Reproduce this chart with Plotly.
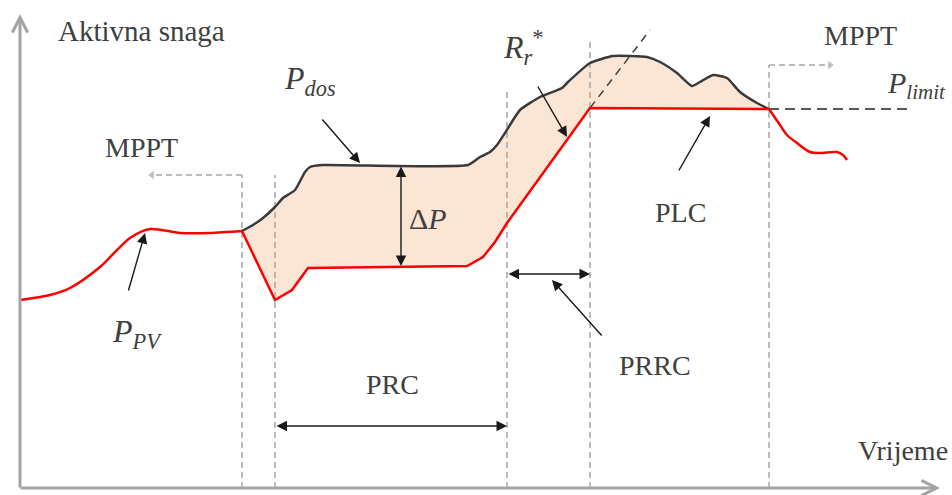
import plotly.graph_objects as go

# ---------------- data (time t, active power p) ----------------
# P_PV before limitation (MPPT mode)
pv_mppt_t = [20, 50, 70, 100, 130, 150, 180, 210, 242]
pv_mppt_p = [195, 200, 207, 228, 257, 266, 262, 262, 264]

# P_PV during limitation (PRC, PRRC, PLC)
pv_lim_t = [242, 275, 292, 308, 467, 483, 495, 507, 590, 769]
pv_lim_p = [264, 195, 205, 227, 229, 238, 253, 272, 387, 386]

# P_PV after returning to MPPT
pv_after_t = [769, 780, 787, 797, 810, 820, 837, 843, 847]
pv_after_p = [386, 370, 360, 352, 343, 342, 343, 340, 335]

# Available power P_dos
dos_t = [242, 253, 263, 275, 283, 295, 305, 310, 322, 468, 480, 490, 497, 505,
         520, 540, 562, 568, 590, 613, 630, 647, 660, 677, 692, 700, 713, 727,
         740, 757, 769]
dos_p = [264, 270, 277, 288, 297, 305, 323, 328, 330, 330, 338, 343, 350, 362,
         385, 398, 407, 413, 432, 439, 439, 438, 433, 422, 409, 413, 420, 417,
         403, 392, 386]

# Mode boundaries (time) and their dashed-line tops (power)
bound_t = [242, 275, 507, 590, 769]
bound_top = [320, 320, 405, 455, 430]

p_limit = 386
p_limit_end = 913
ramp_ext = ([590, 650], [387, 465])

# ---------------- figure ----------------
TXT = "#404040"
SERIF = "Liberation Serif"
fig = go.Figure()

# shaded area between P_dos and P_PV
fill_t = dos_t + pv_lim_t[::-1]
fill_p = dos_p + pv_lim_p[::-1]
fig.add_trace(go.Scatter(x=fill_t, y=fill_p, fill="toself", fillcolor="#fbe6d6",
                         line=dict(width=0), mode="lines", hoverinfo="skip"))

# dashed boundaries
for t, top in zip(bound_t, bound_top):
    fig.add_trace(go.Scatter(x=[t, t], y=[7, top], mode="lines",
                             line=dict(color="#a6a6a6", width=1.5, dash="6px,4px")))

# MPPT dashed arrows
fig.add_trace(go.Scatter(x=[bound_t[0], 152], y=[bound_top[0], bound_top[0]], mode="lines+markers",
                         line=dict(color="#a6a6a6", width=1.5, dash="6px,4px"),
                         marker=dict(symbol="triangle-left", size=[0, 9], color="#a6a6a6")))
fig.add_trace(go.Scatter(x=[bound_t[4], 830], y=[bound_top[4], bound_top[4]], mode="lines+markers",
                         line=dict(color="#a6a6a6", width=1.5, dash="6px,4px"),
                         marker=dict(symbol="triangle-right", size=[0, 9], color="#a6a6a6")))

# P_limit dashed line and ramp extension
fig.add_trace(go.Scatter(x=[bound_t[4], p_limit_end], y=[p_limit, p_limit], mode="lines",
                         line=dict(color="#595959", width=2, dash="10px,6px")))
fig.add_trace(go.Scatter(x=ramp_ext[0], y=ramp_ext[1], mode="lines",
                         line=dict(color="#404040", width=1.5, dash="8px,6px")))

# curves
fig.add_trace(go.Scatter(x=dos_t, y=dos_p, mode="lines",
                         line=dict(color="#3a3a3a", width=2.5, shape="spline", smoothing=0.5)))
fig.add_trace(go.Scatter(x=pv_mppt_t, y=pv_mppt_p, mode="lines",
                         line=dict(color="#ff0000", width=2.5, shape="spline", smoothing=0.8)))
fig.add_trace(go.Scatter(x=pv_lim_t, y=pv_lim_p, mode="lines",
                         line=dict(color="#ff0000", width=2.5)))
fig.add_trace(go.Scatter(x=pv_after_t, y=pv_after_p, mode="lines",
                         line=dict(color="#ff0000", width=2.5, shape="spline", smoothing=0.8)))

ann = []

def label(x, y, text, size=28):
    ann.append(dict(x=x, y=y, text=text, showarrow=False, xanchor="center", yanchor="middle",
                    font=dict(family=SERIF, size=size, color=TXT)))

def arrow(x0, y0, x1, y1, both=False, color="#1a1a1a", width=1.4, head=2, size=1.5):
    a = dict(x=x1, y=y1, ax=x0, ay=y0, xref="x", yref="y", axref="x", ayref="y",
             text="", showarrow=True, arrowhead=head, arrowsize=size, arrowwidth=width,
             arrowcolor=color, standoff=0, startstandoff=0)
    if both:
        a.update(arrowside="end+start", startarrowhead=head, startarrowsize=size)
    ann.append(a)

# axes
arrow(20, 6, 20, 481, color="#a3a3a6", width=3, head=5, size=1)
arrow(19, 7, 940, 7, color="#a3a3a6", width=3, head=5, size=1)

# labels
label(141, 464, "Aktivna snaga", 29)
label(903, 45, "Vrijeme")
label(141, 348, "MPPT")
label(860, 460, "MPPT")
label(310, 415, "<i>P</i><sub><i>dos</i></sub>", 32)
label(428, 277, "Δ<i>P</i>", 30)
label(523, 448, "<i>R</i><sub><i>r</i></sub><sup>*</sup>", 32)
label(916, 410, "<i>P</i><sub><i>limit</i></sub>", 30)
label(137, 162, "<i>P</i><sub><i>PV</i></sub>", 32)
label(680, 283, "PLC")
label(392, 111, "PRC")
label(655, 130, "PRRC")

# pointer arrows
arrow(321, 377, 360, 332)
arrow(128, 203, 145, 262)
arrow(537, 410, 567, 358)
arrow(678, 323, 710, 379)
arrow(603, 158, 552, 215)

# dimension arrows
arrow(401, 330, 401, 229, both=True)
arrow(275, 69, 507, 69, both=True)
arrow(507, 221, 590, 221, both=True)

fig.update_layout(
    width=952, height=495, margin=dict(l=0, r=0, t=0, b=0),
    paper_bgcolor="white", plot_bgcolor="white", showlegend=False,
    xaxis=dict(range=[0, 952], visible=False, fixedrange=True),
    yaxis=dict(range=[0, 495], visible=False, fixedrange=True),
    annotations=ann,
)

fig.write_html("out.html", config={"displayModeBar": False},
               post_script="document.body.style.margin='0';")
